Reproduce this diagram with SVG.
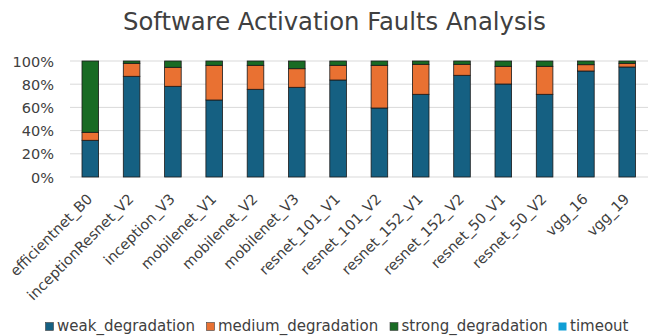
<svg xmlns="http://www.w3.org/2000/svg" width="651" height="336" viewBox="0 0 651 336">
  <style>
    text { font-family: "DejaVu Sans", "Liberation Sans", sans-serif; fill: #404040; }
    .title { font-size: 24.3px; }
    .ytick { font-size: 14.5px; text-anchor: end; }
    .xtick { font-size: 14.5px; text-anchor: end; }
    .legend { font-size: 15px; }
    .grid { stroke: #d9d9d9; stroke-width: 1; }
    .bar rect { stroke: #1a1a1a; stroke-width: 0.8; }
    .weak { fill: #156082; }
    .medium { fill: #e97132; }
    .strong { fill: #196b24; }
    .timeout { fill: #0f9ed5; }
    .swatch { stroke: #404040; stroke-width: 0.6; }
  </style>

  <rect width="651" height="336" fill="#ffffff"/>

  <text class="title" x="334.5" y="30" text-anchor="middle">Software Activation Faults Analysis</text>

  <!-- value axis: gridlines and percentage labels -->
  <g id="value-axis">
    <line class="grid" x1="70" y1="61" x2="648" y2="61"/>
    <line class="grid" x1="70" y1="84.2" x2="648" y2="84.2"/>
    <line class="grid" x1="70" y1="107.4" x2="648" y2="107.4"/>
    <line class="grid" x1="70" y1="130.6" x2="648" y2="130.6"/>
    <line class="grid" x1="70" y1="153.8" x2="648" y2="153.8"/>
    <line class="grid" x1="70" y1="177" x2="648" y2="177"/>
    <text class="ytick" x="54" y="66.5">100%</text>
    <text class="ytick" x="54" y="89.7">80%</text>
    <text class="ytick" x="54" y="112.9">60%</text>
    <text class="ytick" x="54" y="136.1">40%</text>
    <text class="ytick" x="54" y="159.3">20%</text>
    <text class="ytick" x="54" y="182.5">0%</text>
  </g>

  <!-- stacked bars: weak (bottom), medium, strong (top) -->
  <g id="bars">
    <g id="bar-efficientnet_B0" class="bar">
      <rect class="weak" x="82" y="140.3" width="16.6" height="36.7"/>
      <rect class="medium" x="82" y="132.3" width="16.6" height="8"/>
      <rect class="strong" x="82" y="61" width="16.6" height="71.3"/>
    </g>
    <g id="bar-inceptionResnet_V2" class="bar">
      <rect class="weak" x="123.3" y="76.3" width="16.6" height="100.7"/>
      <rect class="medium" x="123.3" y="63.3" width="16.6" height="13"/>
      <rect class="strong" x="123.3" y="61" width="16.6" height="2.3"/>
    </g>
    <g id="bar-inception_V3" class="bar">
      <rect class="weak" x="164.6" y="86.3" width="16.6" height="90.7"/>
      <rect class="medium" x="164.6" y="67.3" width="16.6" height="19"/>
      <rect class="strong" x="164.6" y="61" width="16.6" height="6.3"/>
    </g>
    <g id="bar-mobilenet_V1" class="bar">
      <rect class="weak" x="205.9" y="100" width="16.6" height="77"/>
      <rect class="medium" x="205.9" y="65.3" width="16.6" height="34.7"/>
      <rect class="strong" x="205.9" y="61" width="16.6" height="4.3"/>
    </g>
    <g id="bar-mobilenet_V2" class="bar">
      <rect class="weak" x="247.2" y="89.3" width="16.6" height="87.7"/>
      <rect class="medium" x="247.2" y="65.3" width="16.6" height="24"/>
      <rect class="strong" x="247.2" y="61" width="16.6" height="4.3"/>
    </g>
    <g id="bar-mobilenet_V3" class="bar">
      <rect class="weak" x="288.5" y="87.3" width="16.6" height="89.7"/>
      <rect class="medium" x="288.5" y="68.7" width="16.6" height="18.6"/>
      <rect class="strong" x="288.5" y="61" width="16.6" height="7.7"/>
    </g>
    <g id="bar-resnet_101_V1" class="bar">
      <rect class="weak" x="329.8" y="80" width="16.6" height="97"/>
      <rect class="medium" x="329.8" y="65.3" width="16.6" height="14.7"/>
      <rect class="strong" x="329.8" y="61" width="16.6" height="4.3"/>
    </g>
    <g id="bar-resnet_101_V2" class="bar">
      <rect class="weak" x="371.1" y="108" width="16.6" height="69"/>
      <rect class="medium" x="371.1" y="65.3" width="16.6" height="42.7"/>
      <rect class="strong" x="371.1" y="61" width="16.6" height="4.3"/>
    </g>
    <g id="bar-resnet_152_V1" class="bar">
      <rect class="weak" x="412.4" y="94.3" width="16.6" height="82.7"/>
      <rect class="medium" x="412.4" y="64.3" width="16.6" height="30"/>
      <rect class="strong" x="412.4" y="61" width="16.6" height="3.3"/>
    </g>
    <g id="bar-resnet_152_V2" class="bar">
      <rect class="weak" x="453.7" y="75.3" width="16.6" height="101.7"/>
      <rect class="medium" x="453.7" y="64.3" width="16.6" height="11"/>
      <rect class="strong" x="453.7" y="61" width="16.6" height="3.3"/>
    </g>
    <g id="bar-resnet_50_V1" class="bar">
      <rect class="weak" x="495" y="84" width="16.6" height="93"/>
      <rect class="medium" x="495" y="66.3" width="16.6" height="17.7"/>
      <rect class="strong" x="495" y="61" width="16.6" height="5.3"/>
    </g>
    <g id="bar-resnet_50_V2" class="bar">
      <rect class="weak" x="536.3" y="94.3" width="16.6" height="82.7"/>
      <rect class="medium" x="536.3" y="66.3" width="16.6" height="28"/>
      <rect class="strong" x="536.3" y="61" width="16.6" height="5.3"/>
    </g>
    <g id="bar-vgg_16" class="bar">
      <rect class="weak" x="577.6" y="71" width="16.6" height="106"/>
      <rect class="medium" x="577.6" y="64.7" width="16.6" height="6.3"/>
      <rect class="strong" x="577.6" y="61" width="16.6" height="3.7"/>
    </g>
    <g id="bar-vgg_19" class="bar">
      <rect class="weak" x="618.9" y="67" width="16.6" height="110"/>
      <rect class="medium" x="618.9" y="63.3" width="16.6" height="3.7"/>
      <rect class="strong" x="618.9" y="61" width="16.6" height="2.3"/>
    </g>
  </g>

  <!-- category labels, rotated 45 degrees -->
  <g id="category-axis">
    <text class="xtick" transform="translate(93.3 200) rotate(-45)">efficientnet_B0</text>
    <text class="xtick" transform="translate(134.6 200) rotate(-45)">inceptionResnet_V2</text>
    <text class="xtick" transform="translate(175.9 200) rotate(-45)">inception_V3</text>
    <text class="xtick" transform="translate(217.2 200) rotate(-45)">mobilenet_V1</text>
    <text class="xtick" transform="translate(258.5 200) rotate(-45)">mobilenet_V2</text>
    <text class="xtick" transform="translate(299.8 200) rotate(-45)">mobilenet_V3</text>
    <text class="xtick" transform="translate(341.1 200) rotate(-45)">resnet_101_V1</text>
    <text class="xtick" transform="translate(382.4 200) rotate(-45)">resnet_101_V2</text>
    <text class="xtick" transform="translate(423.7 200) rotate(-45)">resnet_152_V1</text>
    <text class="xtick" transform="translate(465 200) rotate(-45)">resnet_152_V2</text>
    <text class="xtick" transform="translate(506.3 200) rotate(-45)">resnet_50_V1</text>
    <text class="xtick" transform="translate(547.6 200) rotate(-45)">resnet_50_V2</text>
    <text class="xtick" transform="translate(588.9 200) rotate(-45)">vgg_16</text>
    <text class="xtick" transform="translate(630.2 200) rotate(-45)">vgg_19</text>
  </g>

  <!-- legend -->
  <g id="legend">
    <g id="legend-weak">
      <rect class="weak swatch" x="45.5" y="322.5" width="8" height="8"/>
      <text class="legend" x="57" y="331">weak_degradation</text>
    </g>
    <g id="legend-medium">
      <rect class="medium swatch" x="206.5" y="322.5" width="8" height="8"/>
      <text class="legend" x="218" y="331">medium_degradation</text>
    </g>
    <g id="legend-strong">
      <rect class="strong swatch" x="390" y="322.5" width="8" height="8"/>
      <text class="legend" x="401.5" y="331">strong_degradation</text>
    </g>
    <g id="legend-timeout">
      <rect class="timeout" x="558.5" y="322.5" width="8" height="8"/>
      <text class="legend" x="570" y="331">timeout</text>
    </g>
  </g>
</svg>
